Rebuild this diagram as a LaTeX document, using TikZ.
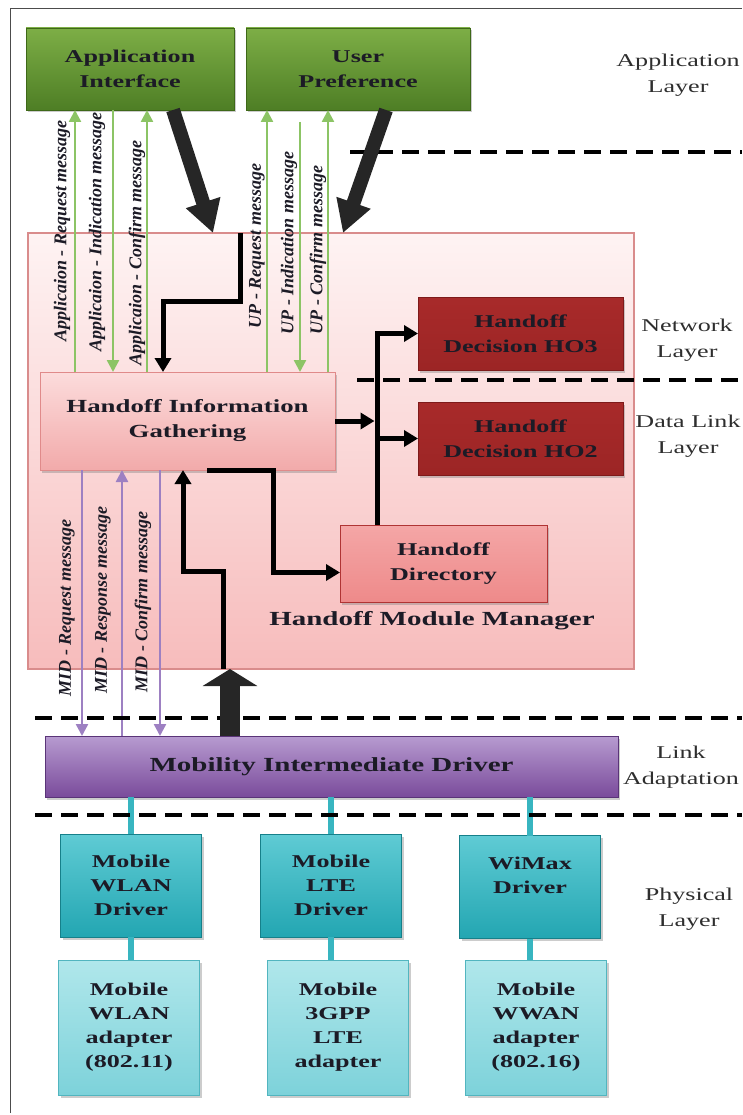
\documentclass[tikz,border=0pt]{standalone}
\usepackage{fontspec}
\setmainfont{Liberation Serif}[FakeStretch=1.45]
\newfontfamily\msgfont{Liberation Serif}
\usetikzlibrary{arrows.meta,shadows}

\definecolor{inkdark}{HTML}{1C1B26}
\definecolor{greentop}{HTML}{7DAE46}
\definecolor{greenbot}{HTML}{4E7E25}
\definecolor{greenedge}{HTML}{3E6818}
\definecolor{msggreen}{HTML}{8CC465}
\definecolor{msgpurple}{HTML}{9D80C2}
\definecolor{pinktop}{HTML}{FEF3F3}
\definecolor{pinkbot}{HTML}{F7BCBC}
\definecolor{pinkedge}{HTML}{D98C8C}
\definecolor{higtop}{HTML}{FCDCDC}
\definecolor{higbot}{HTML}{F2AAAA}
\definecolor{higedge}{HTML}{E08A8A}
\definecolor{hotop}{HTML}{A82A2A}
\definecolor{homid}{HTML}{C94444}
\definecolor{hobot}{HTML}{9C2525}
\definecolor{hoedge}{HTML}{7E1A1A}
\definecolor{dirtop}{HTML}{F4A6A6}
\definecolor{dirmid}{HTML}{E25050}
\definecolor{dirbot}{HTML}{EE8A8A}
\definecolor{diredge}{HTML}{B03434}
\definecolor{midtop}{HTML}{B79BD0}
\definecolor{midmid}{HTML}{9567B3}
\definecolor{midbot}{HTML}{7A4B9B}
\definecolor{midedge}{HTML}{5A3478}
\definecolor{drvtop}{HTML}{5FCBD4}
\definecolor{drvbot}{HTML}{23A6B2}
\definecolor{drvedge}{HTML}{16808A}
\definecolor{adtop}{HTML}{B0E7EB}
\definecolor{adbot}{HTML}{7DD2DA}
\definecolor{adedge}{HTML}{52B5BF}
\definecolor{tealline}{HTML}{38B5C0}
\definecolor{layerink}{HTML}{2E2E2E}

\begin{document}
\begin{tikzpicture}[x=1pt,y=-1pt,
    box/.style={rectangle, draw, line width=.8pt, outer sep=0pt, inner sep=2pt,
        align=center, text=inkdark, font=\bfseries\fontsize{18}{25}\selectfont,
        drop shadow={shadow xshift=2pt, shadow yshift=-2.5pt, opacity=.4}},
    appbox/.style={box, draw=greenedge, top color=greentop, bottom color=greenbot},
    mgrbox/.style={rectangle, draw=pinkedge, line width=1.2pt, outer sep=0pt,
        top color=pinktop, bottom color=pinkbot},
    higbox/.style={box, draw=higedge, top color=higtop, bottom color=higbot},
    hobox/.style={box, draw=hoedge, top color=hotop, middle color=homid, bottom color=hobot},
    dirbox/.style={box, draw=diredge, top color=dirtop, middle color=dirmid, bottom color=dirbot},
    midbox/.style={box, draw=midedge, top color=midtop, middle color=midmid, bottom color=midbot,
        font=\bfseries\fontsize{20}{25}\selectfont},
    drvbox/.style={box, draw=drvedge, top color=drvtop, bottom color=drvbot,
        minimum width=141pt, minimum height=103pt, font=\bfseries\fontsize{18}{24}\selectfont},
    adbox/.style={box, draw=adedge, top color=adtop, bottom color=adbot,
        minimum width=141pt, minimum height=135pt, font=\bfseries\fontsize{18}{24}\selectfont},
    layertext/.style={align=center, text=layerink, font=\fontsize{18}{26}\selectfont},
    msgtext/.style={rotate=90, inner sep=0pt, text=inkdark,
        font=\msgfont\bfseries\itshape\fontsize{18}{20}\selectfont},
    msgarrow/.style={draw=#1, line width=2.5pt, -{Triangle[length=12pt,width=12pt]}},
    flowline/.style={draw=black, line width=5pt, -{Triangle[length=14pt,width=16pt]}},
    downblock/.style={draw=black!85, line width=14pt, -{Triangle[length=32pt,width=34pt]}},
    upblock/.style={draw=black!85, line width=20pt, -{Triangle[length=17pt,width=54pt]}},
    tealwire/.style={draw=tealline, line width=6pt},
    layerdash/.style={draw=black, line width=4pt, dash pattern=on 17pt off 9pt}]

    \useasboundingbox (0,0) rectangle (742,1115);
    \draw[line width=1pt, black!70] (10,1113) -- (10,9) -- (742,9);

    % x positions of the connectors
    \coordinate (xa1) at (75,0);  \coordinate (xa2) at (113,0); \coordinate (xa3) at (147,0);
    \coordinate (xu1) at (267,0); \coordinate (xu2) at (300,0); \coordinate (xu3) at (328,0);
    \coordinate (xm1) at (82,0);  \coordinate (xm2) at (122,0); \coordinate (xm3) at (160,0);
    \coordinate (xk1) at (173,0); \coordinate (xk2) at (213,0);
    \coordinate (xk3) at (386,0); \coordinate (xk4) at (343,0); \coordinate (xk5) at (230,0);
    \coordinate (xj1) at (240,0); \coordinate (xj2) at (163,0);
    \coordinate (xbus) at (377,0);
    \coordinate (xd1) at (207,0); \coordinate (xd2) at (273,0);
    \coordinate (xv1) at (223,0); \coordinate (xv2) at (183,0);
    \coordinate (upind) at (300,122);

    % boxes
    \node[appbox, minimum width=208pt, minimum height=82pt] (appif) at (130,69) {Application\\Interface};
    \node[appbox, minimum width=224pt, minimum height=82pt] (userpref) at (358,69) {User\\Preference};

    \node[mgrbox, minimum width=606pt, minimum height=436pt] (hmm) at (331,451) {};
    \node[font=\bfseries\fontsize{20}{24}\selectfont, text=inkdark] (hmmlabel) at (432,621) {Handoff Module Manager};

    \node[higbox, minimum width=295pt, minimum height=98pt, font=\bfseries\fontsize{18.5}{25}\selectfont]
        (hig) at (187.5,421) {Handoff Information\\Gathering};
    \node[hobox, minimum width=205pt, minimum height=73pt] (ho3) at (520.5,333.5) {Handoff\\Decision HO3};
    \node[hobox, minimum width=205pt, minimum height=73pt] (ho2) at (520.5,438.5) {Handoff\\Decision HO2};
    \node[dirbox, minimum width=207pt, minimum height=77pt] (hdir) at (443.5,563.5) {Handoff\\Directory};

    \node[midbox, minimum width=573pt, minimum height=61pt] (mid) at (331.5,766.5) {Mobility Intermediate Driver};

    \node[drvbox] (drvA) at (131,885.5) {Mobile\\WLAN\\Driver};
    \node[drvbox] (drvB) at (331,885.5) {Mobile\\LTE\\Driver};
    \node[drvbox] (drvC) at (530,887) {WiMax\\Driver\\\phantom{Driver}};
    \node[adbox] (adA) at (129,1027.5) {Mobile\\WLAN\\adapter\\(802.11)};
    \node[adbox] (adB) at (338,1027.5) {Mobile\\3GPP\\LTE\\adapter};
    \node[adbox] (adC) at (536,1027.5) {Mobile\\WWAN\\adapter\\(802.16)};

    % layer names
    \node[layertext] (lyapp) at (678,75) {Application\\Layer};
    \node[layertext] (lynet) at (687,340) {Network\\Layer};
    \node[layertext] (lydl) at (688,436) {Data Link\\Layer};
    \node[layertext] (lylink) at (681,767) {Link\\Adaptation};
    \node[layertext] (lyphy) at (689,909) {Physical\\Layer};

    % driver wires
    \foreach \d/\a in {drvA/adA, drvB/adB, drvC/adC} {
        \draw[tealwire] (\d.north |- mid.south) -- (\d.north);
        \draw[tealwire] (\d.south) -- (\d.south |- \a.north);
    }

    % messages
    \draw[msgarrow=msggreen] (hig.north -| xa1) -- (appif.south -| xa1);
    \draw[msgarrow=msggreen] (appif.south -| xa2) -- (hig.north -| xa2);
    \draw[msgarrow=msggreen] (hig.north -| xa3) -- (appif.south -| xa3);
    \draw[msgarrow=msggreen] (hig.north -| xu1) -- (userpref.south -| xu1);
    \draw[msgarrow=msggreen] (upind) -- (hig.north -| xu2);
    \draw[msgarrow=msggreen] (hig.north -| xu3) -- (userpref.south -| xu3);
    \draw[msgarrow=msgpurple] (hig.south -| xm1) -- (mid.north -| xm1);
    \draw[msgarrow=msgpurple] (mid.north -| xm2) -- (hig.south -| xm2);
    \draw[msgarrow=msgpurple] (hig.south -| xm3) -- (mid.north -| xm3);

    \node[msgtext] (appreq) at (62,231) {Applicaion - Request message};
    \node[msgtext] (appind) at (97,232) {Applicaion - Indication message};
    \node[msgtext] (appcon) at (137,253) {Applicaion - Confirm message};
    \node[msgtext] (upreq) at (257,246) {UP - Request message};
    \node[msgtext] (upindl) at (289,243) {UP - Indication message};
    \node[msgtext] (upcon) at (318,250) {UP - Confirm message};
    \node[msgtext] (midreq) at (67,608) {MID - Request message};
    \node[msgtext] (midres) at (103,600) {MID - Response message};
    \node[msgtext] (midcon) at (143,602) {MID - Confirm message};

    % handoff flow
    \draw[flowline] (hmm.north -| xj1) -- ++(0,68) -| (hig.north -| xj2);
    \draw[flowline, shorten >=2.5pt] (hig.east) -- (hig.east -| xbus);
    \draw[flowline] (hdir.north -| xbus) |- (ho3.west);
    \draw[flowline] (ho2.west -| xbus) -- (ho2.west);
    \draw[flowline] (hig.south -| xd1) -- (hig.south -| xd2) |- ([yshift=-9pt]hdir.west);
    \draw[flowline] (hmm.south -| xv1) -- ++(0,-98) -| (hig.south -| xv2);

    % layer borders
    \draw[layerdash] (350,152) -- (742,152);
    \draw[layerdash] (357,380) -- (742,380);
    \draw[layerdash] (35,718) -- (742,718);
    \draw[layerdash] (35,815) -- (742,815);

    \draw[downblock] (appif.south -| xk1) -- (hmm.north -| xk2);
    \draw[downblock] (userpref.south -| xk3) -- (hmm.north -| xk4);
    \draw[upblock] (mid.north -| xk5) -- (hmm.south -| xk5);
\end{tikzpicture}
\end{document}
